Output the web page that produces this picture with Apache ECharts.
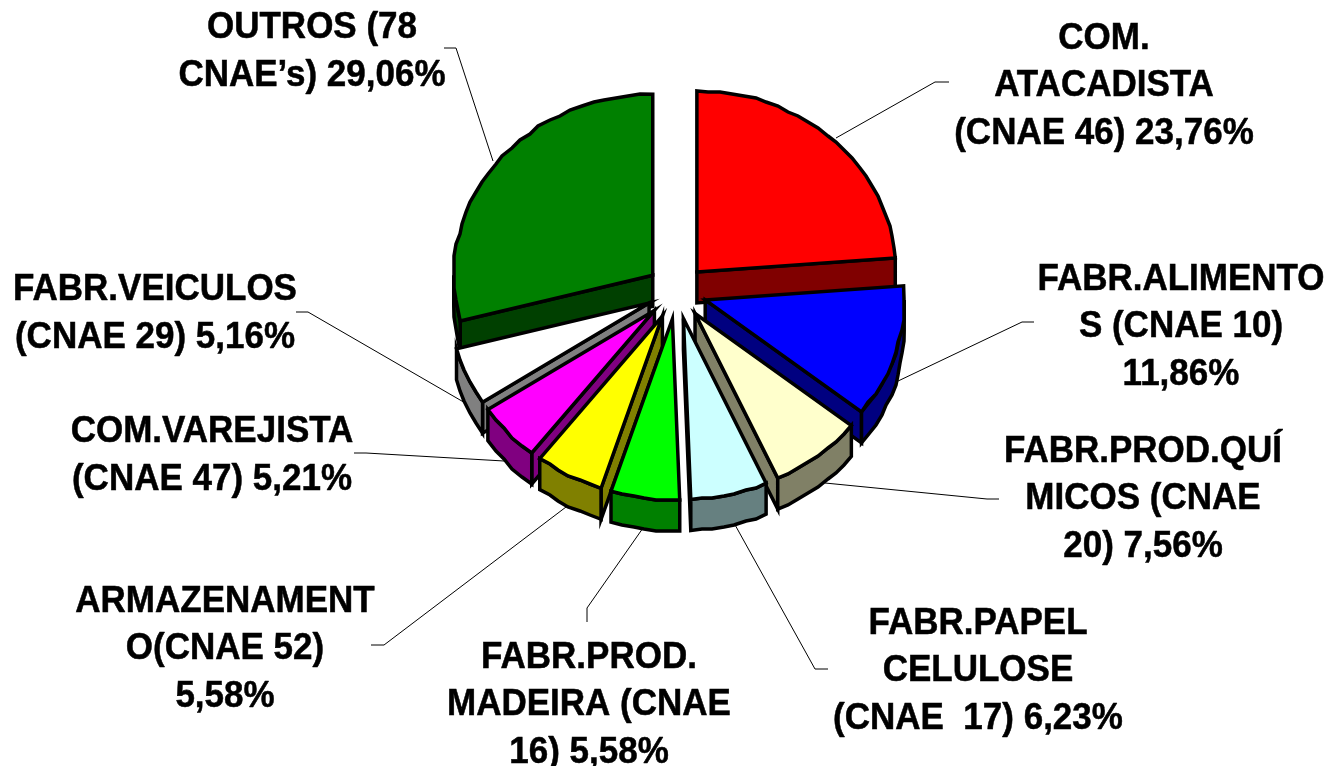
<!DOCTYPE html>
<html>
<head>
<meta charset="utf-8">
<title>CNAE</title>
<style>
  html, body { margin: 0; padding: 0; background: #fff; }
  #chart { width: 1333px; height: 766px; }
</style>
<script src="https://cdn.jsdelivr.net/npm/echarts@6/dist/echarts.min.js"></script>
</head>
<body>
<div id="chart"></div>
<script>
// fatias em ordem horaria a partir do topo
const labels = [
  'COM.\nATACADISTA\n(CNAE 46) 23,76%',
  'FABR.ALIMENTO\nS (CNAE 10)\n11,86%',
  'FABR.PROD.QUÍ\nMICOS (CNAE\n20) 7,56%',
  'FABR.PAPEL\nCELULOSE\n(CNAE  17) 6,23%',
  'FABR.PROD.\nMADEIRA (CNAE\n16) 5,58%',
  'ARMAZENAMENT\nO(CNAE 52)\n5,58%',
  'COM.VAREJISTA\n(CNAE 47) 5,21%',
  'FABR.VEICULOS\n(CNAE 29) 5,16%',
  'OUTROS (78\nCNAE’s) 29,06%'
];
const shares = [23.76, 11.86, 7.56, 6.23, 5.58, 5.58, 5.21, 5.16, 29.06];
const topColors = ['#ff0000', '#0000ff', '#ffffcc', '#ccffff', '#00ff00', '#ffff00', '#ff00ff', '#ffffff', '#008000'];
const wallColors = ['#800000', '#000080', '#808066', '#668080', '#008000', '#808000', '#800080', '#808080', '#004000'];

// posicao dos rotulos [centro x, centro y]
const labelPos = [
  [1104, 86], [1181, 327], [1143, 499], [978, 671], [589, 705],
  [225, 649], [212, 456], [155, 314], [312, 52]
];
// linhas de chamada
const leaders = [
  [[836, 138], [935, 82], [949, 82]],
  [[896, 382], [1022, 322], [1034, 322]],
  [[825, 483], [987, 499], [999, 499]],
  [[734, 523], [815, 669], [828, 669]],
  [[643, 528], [587, 608], [587, 622]],
  [[566, 507], [384, 645], [371, 645]],
  [[504, 461], [366, 453], [354, 453]],
  [[467, 404], [308, 312], [296, 312]],
  [[493, 161], [456, 48], [444, 48]]
];

const cx = 676.5, cy = 292;
const rx = 199, ry = 181, depth = 31, explode = 30;
const total = shares.reduce((a, b) => a + b, 0);

let acc = 0;
const rows = shares.map((v, i) => {
  const row = [v, acc, i];
  acc += v;
  return row;
});
// de tras para frente
rows.sort((a, b) => Math.cos(midAngle(b)) - Math.cos(midAngle(a)));

function midAngle(row) {
  return (row[1] + row[0] / 2) / total * Math.PI * 2;
}

function renderSlice(params, api) {
  const v = api.value(0), start = api.value(1), idx = api.value(2);
  const s = start / total * Math.PI * 2;
  const e = (start + v) / total * Math.PI * 2;
  const m = (s + e) / 2;
  const ax = cx + explode * Math.sin(m);
  const ay = cy - explode * Math.cos(m) * ry / rx;
  const at = (a, dz) => [
    ax + rx * Math.sin(a),
    ay - ry * Math.cos(a) + (dz || 0)
  ];
  // grade de 2px nos pontos internos, para o contorno serrilhado do original
  const arc = (a0, a1, dz) => {
    const n = Math.max(1, Math.round((a1 - a0) / 0.06));
    const pts = [];
    for (let k = 0; k <= n; k++) {
      const p = at(a0 + (a1 - a0) * k / n);
      const inner = k > 0 && k < n;
      pts.push([
        inner ? Math.round(p[0] / 2) * 2 : p[0],
        (inner ? Math.round(p[1] / 2) * 2 : p[1]) + (dz || 0)
      ]);
    }
    return pts;
  };
  const face = (points, fill) => ({
    type: 'polygon',
    shape: { points },
    style: { fill, stroke: '#000', lineWidth: 3.5, lineJoin: 'miter', miterLimit: 10 }
  });
  const wall = wallColors[idx];
  const children = [];
  const apex = [ax, ay];
  const apexLow = [ax, ay + depth];
  // paredes radiais
  if (Math.sin(s) < -0.001) children.push(face([apex, at(s), at(s, depth), apexLow], wall));
  if (Math.sin(e) > 0.001) children.push(face([apex, at(e), at(e, depth), apexLow], wall));
  // parede externa (so a metade de baixo aparece)
  const w0 = Math.max(s, Math.PI / 2), w1 = Math.min(e, Math.PI * 1.5);
  if (w1 > w0) {
    children.push(face(arc(w0, w1, 0).concat(arc(w0, w1, depth).reverse()), wall));
  }
  children.push(face([apex].concat(arc(s, e, 0)), topColors[idx]));
  return { type: 'group', children };
}

const graphics = [];
leaders.forEach((points) => {
  graphics.push({
    type: 'polyline',
    silent: true,
    z: 1,
    shape: { points },
    style: { fill: null, stroke: '#000', lineWidth: 1 }
  });
});
labels.forEach((text, i) => {
  graphics.push({
    type: 'text',
    silent: true,
    x: labelPos[i][0],
    y: labelPos[i][1],
    scaleY: 1.06,
    style: {
      text,
      fill: '#000',
      stroke: '#000',
      lineWidth: 0.5,
      font: 'bold 35px "Liberation Sans", Arial, sans-serif',
      lineHeight: 44.8,
      align: 'center',
      verticalAlign: 'middle'
    }
  });
});

const myChart = echarts.init(document.getElementById('chart'));
myChart.setOption({
  backgroundColor: '#fff',
  animation: false,
  graphic: { elements: graphics },
  series: [{
    type: 'custom',
    coordinateSystem: 'none',
    silent: true,
    z: 5,
    encode: { tooltip: 0 },
    renderItem: renderSlice,
    data: rows
  }]
});
</script>
</body>
</html>
